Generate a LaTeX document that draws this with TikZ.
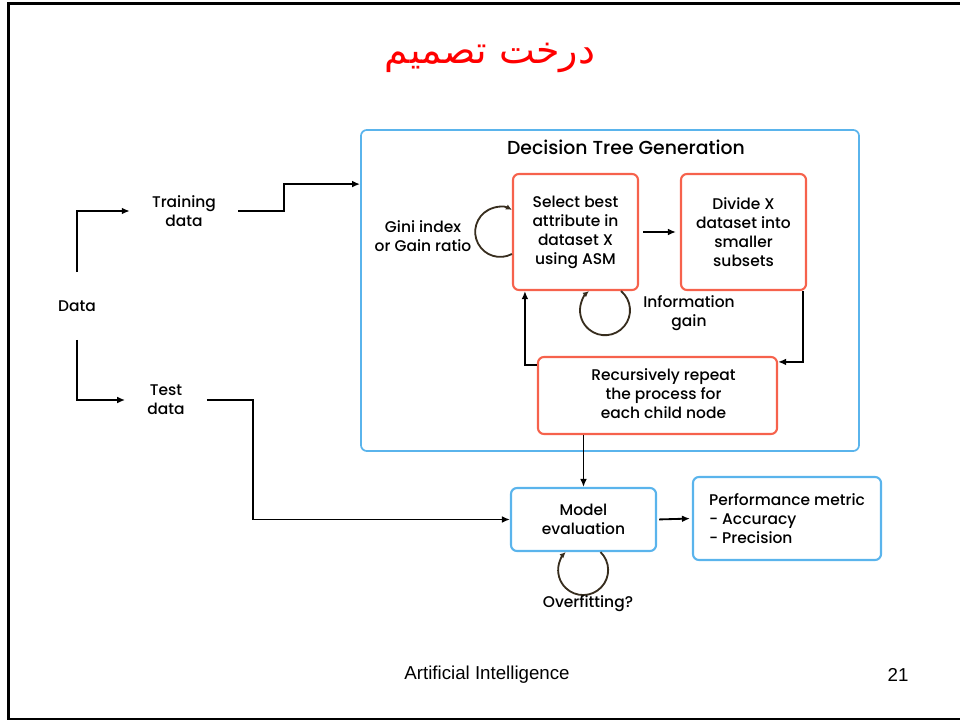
\documentclass[tikz,border=0pt]{standalone}
\usepackage{fontspec}
\setmainfont{Poppins}[UprightFont={* Medium}]
\newfontfamily\arialfont{Liberation Sans}
\newfontfamily\arabicfont[Script=Arabic]{DejaVu Sans}
\TeXXeTstate=1
\usepackage{tikz}
\usetikzlibrary{arrows.meta,calc}
\definecolor{treeblue}{RGB}{90,180,236}
\definecolor{treeorange}{RGB}{246,98,76}
\definecolor{loopbrown}{RGB}{55,45,30}

\begin{document}
\begin{tikzpicture}[
    x=0.025cm, y=-0.025cm,
    >={Latex[length=0.2cm,width=0.17cm]},
    font=\fontsize{11}{13.5}\selectfont,
    bigbox/.style={
        draw=treeblue,
        line width=1.2pt,
        rounded corners=0.15cm,
        minimum width=12.45cm,
        minimum height=8.025cm
    },
    treebox/.style={
        draw=treeorange,
        line width=1.5pt,
        rounded corners=0.15cm,
        align=center
    },
    evalbox/.style={
        draw=treeblue,
        line width=1.5pt,
        rounded corners=0.15cm
    },
    lbl/.style={align=center, inner xsep=0.55cm},
    arr/.style={->, line width=1.3pt},
    loopy/.style={->, line width=1.3pt, draw=loopbrown,
        >={Latex[length=0.15cm,width=0.14cm]}}
]
\useasboundingbox (0,0) rectangle (960,721);

% Slide frame
\draw[line width=1.8pt] (960,3.5) -- (8.5,3.5) -- (8.5,719) -- (960,719);

% Title
\node[text=red, font=\arabicfont\fontsize{27}{30}\selectfont] (title) at (490,58) {\beginR درخت تصمیم\endR};

% Decision tree generation
\node[bigbox] (big) at (610,290.5) {};
\node[font=\fontsize{13.4}{15}\selectfont] (dtg) at (626,147) {Decision Tree Generation};
\node[treebox, minimum width=3.125cm, minimum height=2.9cm] (sel) at (575.5,232) {Select best\\attribute in\\dataset X\\using ASM};
\node[treebox, minimum width=3.125cm, minimum height=2.9cm] (div) at (743.5,232) {Divide X\\dataset into\\smaller\\subsets};
\node[treebox, minimum width=5.975cm, minimum height=1.925cm] (rec) at (657.5,395.5) {\hspace*{0.3cm}\begin{tabular}{@{}c@{}}Recursively repeat\\the process for\\each child node\end{tabular}};

% Loops
\draw[loopy] ($(sel.west)+(0,22)$) arc[start angle=62, end angle=298, radius=25];
\draw[loopy] ($(sel.south east)+(-18,0)$) arc[start angle=-50, end angle=230, radius=25];
\node[align=center] (gini) at (423,236) {Gini index\\or Gain ratio};
\node[align=center] (info) at (689,313) {Information\\gain};

% Arrows inside
\draw[arr, shorten <=0.1cm, shorten >=0.1cm] (sel.east) -- (div.west);
\draw[arr] ($(div.south east)+(-4,0)$) |- ($(rec.north east)+(0,6)$);
\draw[arr] ($(rec.north west)+(0,9)$) -| ($(sel.south west)+(13,0)$);

% Data split
\node[minimum height=1.675cm] (data) at (77,306) {Data};
\node[lbl] (train) at (184,211) {Training\\data};
\node[lbl] (test) at (166,400) {Test\\data};
\draw[arr] (data.north) |- (train.west);
\draw[arr] (data.south) |- (test.west);
\draw[arr] (train.east) -- ++(46,0) |- ($(big.north west)+(0,55)$);

% Evaluation
\node[evalbox, minimum width=3.625cm, minimum height=1.575cm, align=center] (eval) at (583.5,519.5) {Model\\evaluation};
\node[evalbox, minimum width=4.7cm, minimum height=2.075cm, align=left] (perf) at (787,518.5) {Performance metric\\- Accuracy\\- Precision};
\draw[arr] (eval.north |- rec.south) -- (eval.north);
\draw[arr] (test.east) -- ++(46,0) |- (eval.west);
\draw[arr, shorten <=0.05cm, shorten >=0.05cm] (eval.east) -- (perf.west);
\draw[loopy] ($(eval.south)+(17,0)$) arc[start angle=-46, end angle=226, radius=25];
\node (over) at (588,604) {Overfitting?};

% Footer
\node[font=\arialfont\fontsize{13.3}{15}\selectfont] (foot) at (487,675) {Artificial Intelligence};
\node[font=\arialfont\fontsize{13.3}{15}\selectfont] (page) at (898,675) {21};

\end{tikzpicture}
\end{document}
